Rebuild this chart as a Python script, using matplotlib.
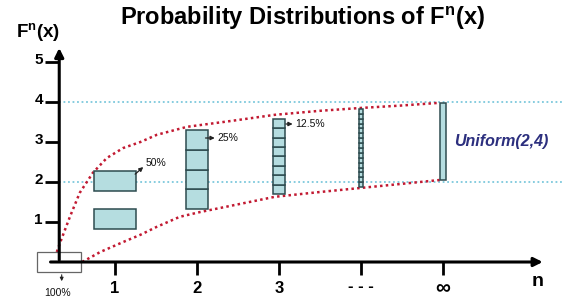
import matplotlib
matplotlib.use('Agg')
import matplotlib.pyplot as plt
from matplotlib.patches import Rectangle

plt.rcParams['font.family'] = ['Liberation Sans', 'DejaVu Sans']
plt.rcParams['mathtext.fontset'] = 'custom'
plt.rcParams['mathtext.rm'] = 'Liberation Sans:bold'
plt.rcParams['mathtext.bf'] = 'Liberation Sans:bold'
plt.rcParams['mathtext.it'] = 'Liberation Sans:bold'

# ---- data ----
n_positions = [1, 2, 3, 4, 5]
n_labels = ['1', '2', '3', '- - -', '∞']
y_ticks = [1, 2, 3, 4, 5]
ref_levels = [2, 4]
# blocks per column: list of (bottom, top, cells)
col_blocks = [
    [(0.825, 1.325, 1), (1.775, 2.275, 1)],
    [(1.325, 3.3, 4)],
    [(1.7, 3.575, 8)],
    [(1.875, 3.825, 16)],
    [(2.05, 3.975, 1)],
]
col_width = [0.52, 0.26, 0.15, 0.06, 0.07]
pct_labels = ['50%', '25%', '12.5%']
upper_x = [0.29, 0.33, 0.45, 0.57, 0.73, 0.90, 1.10, 1.31, 1.51, 1.88, 2.43, 2.95, 3.50, 3.99, 4.48, 4.96]
upper_y = [0.25, 0.48, 1.13, 1.73, 2.23, 2.60, 2.85, 3.00, 3.18, 3.38, 3.53, 3.68, 3.78, 3.85, 3.91, 3.98]
lower_x = [0.60, 0.82, 1.10, 1.31, 1.51, 1.79, 2.04, 2.52, 2.95, 3.50, 3.99, 4.48, 4.96]
lower_y = [0.00, 0.25, 0.50, 0.68, 0.88, 1.13, 1.25, 1.45, 1.63, 1.75, 1.85, 1.95, 2.05]

W, H = 564, 303
fig = plt.figure(figsize=(W / 100, H / 100), dpi=100)
ax = fig.add_axes([0, 0, 1, 1])
ax.set_xlim(-33 / 82, (W - 33) / 82)
ax.set_ylim((262 - H) / 40, 262 / 40)
ax.axis('off')

x0 = 0.32  # y-axis position

# reference dotted lines
for lv in ref_levels:
    ax.plot([x0, 7], [lv, lv], linestyle=(0, (1, 1.5)), color='#7cc8dc', lw=1.3, zorder=1)

# curves
ax.plot(upper_x, upper_y, linestyle=(0, (1, 1.3)), color='#c21a32', lw=1.8, zorder=2)
ax.plot(lower_x, lower_y, linestyle=(0, (1, 1.3)), color='#c21a32', lw=1.8, zorder=2)

# columns
for n, blocks, w in zip(n_positions, col_blocks, col_width):
    for b, t, cells in blocks:
        h = (t - b) / cells
        for k in range(cells):
            ax.add_patch(Rectangle((n - w / 2, b + k * h), w, h, facecolor='#b5dde0',
                                   edgecolor='#2d4b4f', lw=1.1, zorder=3))

# percentage labels with small arrows
pct_pos = [(1.37, 2.47), (2.25, 3.1), (3.2, 3.45)]
arr_from = [(1.22, 2.15), (2.07, 3.1), (3.05, 3.45)]
for lab, (tx, ty), (fx, fy) in zip(pct_labels, pct_pos, arr_from):
    ax.annotate('', xy=(tx, ty - 0.05 if lab == '50%' else ty), xytext=(fx, fy),
                arrowprops=dict(arrowstyle='-|>', color='#222222', lw=0.9, mutation_scale=6),
                zorder=4)
    ax.text(tx, ty, lab, fontsize=7.5, ha='left', va='center', color='#111111', zorder=4)

# origin box
ax.add_patch(Rectangle((0.05, -0.25), 0.535, 0.5, facecolor='none', edgecolor='#666666', lw=0.9, zorder=5))
ax.annotate('', xy=(0.35, -0.55), xytext=(0.35, -0.25),
            arrowprops=dict(arrowstyle='-|>', color='#222222', lw=0.8, mutation_scale=5))
ax.text(0.305, -0.77, '100%', fontsize=7.5, ha='center', va='center', color='#111111')

# axes with arrows
ax.annotate('', xy=(x0, 5.42), xytext=(x0, -0.02),
            arrowprops=dict(arrowstyle='-|>', color='black', lw=2.2, mutation_scale=13), zorder=6)
ax.annotate('', xy=(6.25, 0), xytext=(0.18, 0),
            arrowprops=dict(arrowstyle='-|>', color='black', lw=2.2, mutation_scale=13), zorder=6)

# y ticks
for v in y_ticks:
    ax.plot([0.146, x0], [v, v], color='black', lw=2, zorder=6, solid_capstyle='butt')
    ax.text(0.12, v + 0.05, str(v), fontsize=11, fontweight='bold', ha='right', va='center')

# x ticks
for n, lab in zip(n_positions, n_labels):
    ax.plot([n, n], [0, -0.32], color='black', lw=2, zorder=6, solid_capstyle='butt')
    fs = 15 if lab == '∞' else 12
    ax.text(n, -0.62 if lab == '- - -' else -0.66, lab, fontsize=fs, fontweight='bold',
            ha='center', va='center')

ax.text(6.15, -0.48, 'n', fontsize=14, fontweight='bold', ha='center', va='center')
ax.text(0.06, 5.75, r'F$^{n}$(x)', fontsize=13.5, fontweight='bold', ha='center', va='center')
ax.text(3.29, 6.1, r'Probability Distributions of F$^{n}$(x)', fontsize=17,
        fontweight='bold', ha='center', va='center')
ax.text(5.13, 3.0, 'Uniform(2,4)', fontsize=11.5, fontweight='bold', style='italic',
        color='#2c2f7e', ha='left', va='center')

fig.savefig('out.png', dpi=100)
